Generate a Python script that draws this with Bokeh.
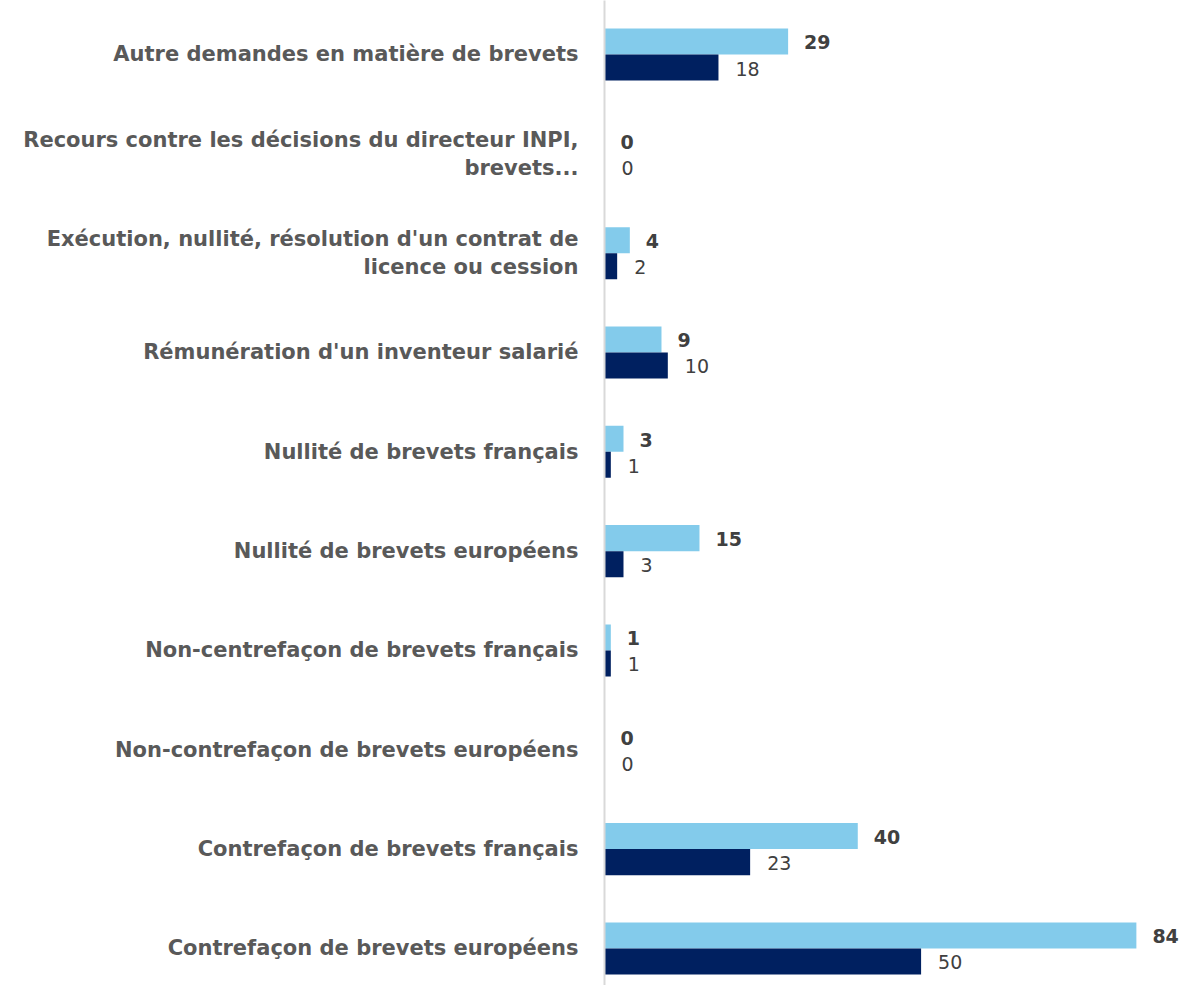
from bokeh.plotting import figure
from bokeh.models import Range1d, FixedTicker, ColumnDataSource, LabelSet
from bokeh.core.properties import value
from bokeh.embed import file_html
from bokeh.resources import INLINE

categories = [
    "Autre demandes en matière de brevets",
    "Recours contre les décisions du directeur INPI,\nbrevets...",
    "Exécution, nullité, résolution d'un contrat de\nlicence ou cession",
    "Rémunération d'un inventeur salarié",
    "Nullité de brevets français",
    "Nullité de brevets européens",
    "Non-centrefaçon de brevets français",
    "Non-contrefaçon de brevets européens",
    "Contrefaçon de brevets français",
    "Contrefaçon de brevets européens",
]
series_light = [29, 0, 4, 9, 3, 15, 1, 0, 40, 84]
series_dark = [18, 0, 2, 10, 1, 3, 1, 0, 23, 50]

LIGHT = "#83CBEB"
DARK = "#002060"
FONT = "DejaVu Sans"

idx = list(range(len(categories)))
bar_h = 0.262
src_l = ColumnDataSource(dict(y=[i - bar_h / 2 for i in idx], v=series_light, t=[str(v) for v in series_light]))
src_d = ColumnDataSource(dict(y=[i + bar_h / 2 for i in idx], v=series_dark, t=[str(v) for v in series_dark]))

p = figure(width=1184, height=985, output_backend="svg", toolbar_location=None,
           x_range=Range1d(0, 91.6), y_range=Range1d(9.373, -0.5436),
           x_axis_location=None, min_border_left=604, min_border_right=0,
           min_border_top=0, min_border_bottom=0)
p.outline_line_color = None
p.grid.visible = False
p.background_fill_color = "white"
p.border_fill_color = "white"

p.hbar(y="y", right="v", left=0, height=bar_h, source=src_l, fill_color=LIGHT, line_color=None)
p.hbar(y="y", right="v", left=0, height=bar_h, source=src_d, fill_color=DARK, line_color=None)

p.add_layout(LabelSet(x="v", y="y", text="t", source=src_l, x_offset=16, y_offset=-1, text_baseline="middle",
                      text_font=value(FONT), text_font_size="19px", text_font_style="bold", text_color="#404040"))
p.add_layout(LabelSet(x="v", y="y", text="t", source=src_d, x_offset=17, y_offset=-1, text_baseline="middle",
                      text_font=value(FONT), text_font_size="19px", text_color="#404040"))

ax = p.yaxis[0]
ax.ticker = FixedTicker(ticks=idx)
ax.major_label_overrides = {i: c for i, c in zip(idx, categories)}
ax.major_tick_line_color = None
ax.minor_tick_line_color = None
ax.major_tick_out = 0
ax.major_label_standoff = 26
ax.axis_line_color = "#D9D9D9"
ax.axis_line_width = 2
ax.major_label_text_font = FONT
ax.major_label_text_font_size = "21px"
ax.major_label_text_font_style = "bold"
ax.major_label_text_color = "#595959"
ax.major_label_text_line_height = 1.15

open("out.html", "w").write(file_html(p, INLINE))
